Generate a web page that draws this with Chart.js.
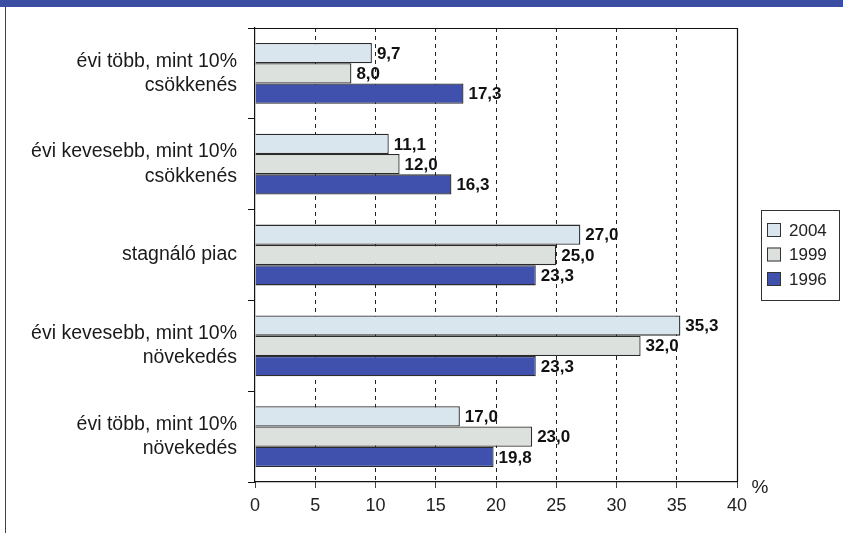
<!DOCTYPE html>
<html>
<head>
<meta charset="utf-8">
<script src="https://cdn.jsdelivr.net/npm/chart.js@4.4.1/dist/chart.umd.min.js"></script>
<style>
    html, body { margin: 0; padding: 0; background: #fff; }
    #wrap { position: relative; width: 843px; height: 533px; overflow: hidden; }
    #strip { position: absolute; left: 0; top: 0; width: 843px; height: 7px; background: #3c4ea3; }
    #edge { position: absolute; left: 5px; top: 7px; width: 1px; height: 526px; background: #444; }
    #chart-box { position: absolute; left: 0; top: 0; width: 843px; height: 533px; }
</style>
</head>
<body>
<div id="wrap">
    <div id="chart-box"><canvas id="trend-chart"></canvas></div>
    <div id="strip"></div>
    <div id="edge"></div>
</div>
<script>
// Categories (top to bottom)
const categories = [
    ['évi több, mint 10%', 'csökkenés'],
    ['évi kevesebb, mint 10%', 'csökkenés'],
    'stagnáló piac',
    ['évi kevesebb, mint 10%', 'növekedés'],
    ['évi több, mint 10%', 'növekedés']
];

// Series values (%)
const years = ['2004', '1999', '1996'];
const values2004 = [9.7, 11.1, 27.0, 35.3, 17.0];
const values1999 = [8.0, 12.0, 25.0, 32.0, 23.0];
const values1996 = [17.3, 16.3, 23.3, 23.3, 19.8];

// Axis ticks
const xTicks = [0, 5, 10, 15, 20, 25, 30, 35, 40];

const FONT = '"Liberation Sans", Arial, sans-serif';

const chartEl = document.querySelector('#trend-chart');

const dataTrend = {
    labels: categories,
    datasets: [
        {
            label: years[0],
            data: values2004,
            backgroundColor: '#d9e6ee',
            borderColor: '#2b2b2b',
            borderWidth: 1.3
        },
        {
            label: years[1],
            data: values1999,
            backgroundColor: '#dde1dd',
            borderColor: '#2b2b2b',
            borderWidth: 1.3
        },
        {
            label: years[2],
            data: values1996,
            backgroundColor: '#4051ad',
            borderColor: '#2b2b2b',
            borderWidth: 1.3
        }
    ]
};

// value labels at the end of each bar + frame, legend and "%" sign
const extrasPlugin = {
    id: 'extras',
    afterDatasetsDraw: (chart) => {
        const ctx = chart.ctx;
        ctx.save();
        ctx.font = 'bold 17px ' + FONT;
        ctx.fillStyle = '#111';
        ctx.textAlign = 'left';
        ctx.textBaseline = 'middle';
        chart.data.datasets.forEach((ds, i) => {
            const meta = chart.getDatasetMeta(i);
            meta.data.forEach((bar, j) => {
                const txt = ds.data[j].toFixed(1).replace('.', ',');
                ctx.fillText(txt, bar.x + 5, bar.y + 1);
            });
        });
        ctx.restore();
    },
    afterDraw: (chart) => {
        const ctx = chart.ctx;
        const area = chart.chartArea;
        ctx.save();
        // top and right frame
        ctx.strokeStyle = '#111';
        ctx.lineWidth = 1.2;
        ctx.beginPath();
        ctx.moveTo(area.left, area.top + 0.5);
        ctx.lineTo(area.right + 0.5, area.top + 0.5);
        ctx.lineTo(area.right + 0.5, area.bottom);
        ctx.stroke();

        // "%" unit
        ctx.font = '19px ' + FONT;
        ctx.fillStyle = '#222';
        ctx.textAlign = 'center';
        ctx.textBaseline = 'middle';
        ctx.fillText('%', area.right + 23, area.bottom + 6);

        // legend box
        const lx = 761, ly = 210, lw = 78, lh = 90;
        ctx.strokeStyle = '#333';
        ctx.lineWidth = 1;
        ctx.strokeRect(lx + 0.5, ly + 0.5, lw, lh);
        ctx.font = '17px ' + FONT;
        ctx.textAlign = 'left';
        chart.data.datasets.forEach((ds, i) => {
            const cy = ly + 20 + i * 24.5;
            ctx.fillStyle = ds.backgroundColor;
            ctx.fillRect(lx + 6, cy - 7, 14, 14);
            ctx.strokeStyle = '#333';
            ctx.strokeRect(lx + 6.5, cy - 6.5, 13, 13);
            ctx.fillStyle = '#222';
            ctx.fillText(ds.label, lx + 28, cy + 1);
        });
        ctx.restore();
    }
};

const optionsTrend = {
    indexAxis: 'y',
    responsive: true,
    maintainAspectRatio: false,
    animation: false,
    categoryPercentage: 0.67,
    barPercentage: 1.0,
    layout: {
        padding: { left: 0, right: 106, top: 28, bottom: 0 }
    },
    scales: {
        x: {
            type: 'linear',
            min: 0,
            max: 40,
            afterBuildTicks: (scale) => {
                scale.ticks = xTicks.map((v) => ({ value: v }));
            },
            afterFit: (scale) => {
                scale.height = 51;
                scale.paddingLeft = 0;
                scale.paddingRight = 0;
            },
            border: {
                display: true,
                color: '#111',
                width: 1.2,
                dash: [4, 4]   // v4: dash of the grid lines
            },
            grid: {
                color: (c) => (c.tick && (c.tick.value === 0 || c.tick.value === 40)) ? 'rgba(0,0,0,0)' : '#222',
                tickColor: '#222',
                lineWidth: 1,
                tickBorderDash: [1, 0],
                tickLength: 6
            },
            ticks: {
                padding: 7,
                color: '#222',
                font: { family: FONT, size: 18 },
                maxRotation: 0
            }
        },
        y: {
            afterFit: (scale) => {
                scale.width = 255;
                scale.paddingTop = 0;
                scale.paddingBottom = 0;
            },
            border: {
                display: true,
                color: '#111',
                width: 1.2
            },
            grid: {
                drawOnChartArea: false,
                color: '#111',
                tickLength: 7,
                offset: true
            },
            ticks: {
                padding: 11,
                color: '#1a1a1a',
                font: { family: FONT, size: 19.5, lineHeight: 1.25 }
            }
        }
    },
    plugins: {
        legend: { display: false },
        tooltip: { enabled: false }
    }
};

new Chart(chartEl, {
    type: 'bar',
    data: dataTrend,
    options: optionsTrend,
    plugins: [extrasPlugin]
});
</script>
</body>
</html>
